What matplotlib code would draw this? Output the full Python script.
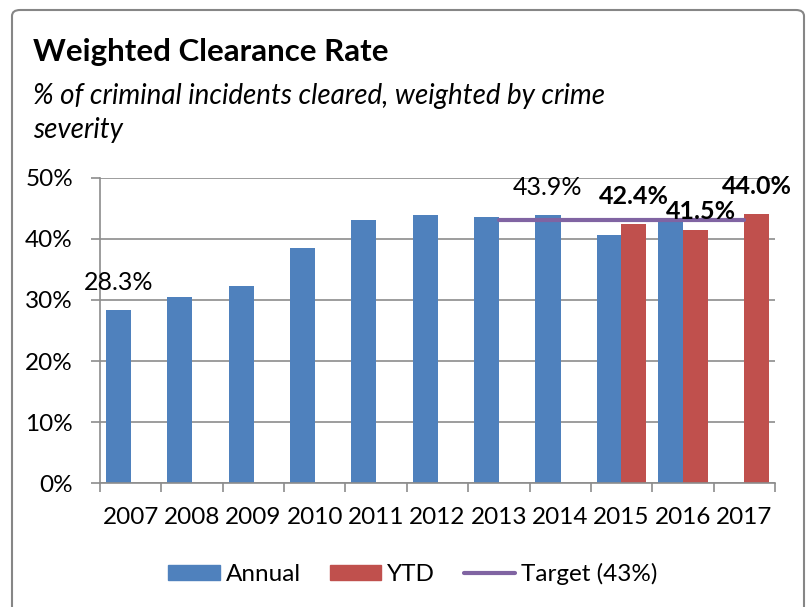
import matplotlib.pyplot as plt
import numpy as np
from matplotlib.patches import FancyBboxPatch, Patch
from matplotlib.lines import Line2D

plt.rcParams['font.family'] = ['Lato', 'DejaVu Sans']

# data
years = ['2007', '2008', '2009', '2010', '2011', '2012', '2013', '2014', '2015', '2016', '2017']
annual = [28.3, 30.4, 32.3, 38.5, 43.1, 43.9, 43.6, 43.9, 40.6, 42.8, np.nan]
ytd = [np.nan] * 8 + [42.4, 41.5, 44.0]
target_years = ['2013', '2014', '2015', '2016', '2017']
target = [43, 43, 43, 43, 43]

blue = '#4F81BD'
red = '#C0504D'
purple = '#8064A2'
grid_gray = '#8C8C8C'

fig = plt.figure(figsize=(8.06, 6.07), dpi=100)
ax = fig.add_axes([100 / 806, 1 - 483.3 / 607, 675 / 806, 305.6 / 607])

x = np.arange(len(years))
w = 0.41
ax.bar(x - 0.2, annual, w, color=blue, zorder=2)
ax.bar(x + 0.2, ytd, w, color=red, zorder=2)

tx = [years.index(y) for y in target_years]
ax.plot(tx, target, color=purple, lw=3, solid_capstyle='round', zorder=3)

# data labels (Excel places them loosely above the bars)
ax.annotate('28.3%', (0 - 0.2, annual[0]), xytext=(0, 20), textcoords='offset points',
            ha='center', va='center', fontsize=18, zorder=4)
ax.annotate('43.9%', (7 - 0.2, annual[7]), xytext=(0, 20), textcoords='offset points',
            ha='center', va='center', fontsize=18, zorder=4)
ax.annotate('42.4%', (8 + 0.2, ytd[8]), xytext=(0, 20), textcoords='offset points',
            ha='center', va='center', fontsize=18, fontweight='bold', zorder=4)
ax.annotate('41.5%', (9 + 0.2, ytd[9]), xytext=(4, 13), textcoords='offset points',
            ha='center', va='center', fontsize=18, fontweight='bold', zorder=4)
ax.annotate('44.0%', (10 + 0.2, ytd[10]), xytext=(0, 20), textcoords='offset points',
            ha='center', va='center', fontsize=18, fontweight='bold', zorder=4)

ax.set_xlim(-0.5, len(years) - 0.5)
ax.set_ylim(0, 50)
ax.set_yticks(np.arange(0, 51, 10))
ax.set_yticklabels([f'{v}%' for v in range(0, 51, 10)])
ax.set_xticks(x)
ax.set_xticklabels(years)
ax.set_xticks(np.arange(-0.5, len(years), 1), minor=True)
ax.tick_params(axis='x', which='major', length=0, pad=17, labelsize=17.5)
ax.tick_params(axis='x', which='minor', length=6.5, width=1.2, color=grid_gray, direction='out')
ax.tick_params(axis='y', length=6.5, width=1.2, color=grid_gray, pad=13, labelsize=17.5)
ax.grid(axis='y', color=grid_gray, lw=1.2, zorder=0)
ax.set_axisbelow(True)
for s in ['top', 'right']:
    ax.spines[s].set_visible(False)
for s in ['left', 'bottom']:
    ax.spines[s].set_color(grid_gray)
    ax.spines[s].set_linewidth(1.2)

# titles
fig.text(33 / 806, 1 - 52 / 607, 'Weighted Clearance Rate', fontsize=22.5, fontweight='bold',
         va='center', ha='left')
fig.text(33 / 806, 1 - 96 / 607, '% of criminal incidents cleared, weighted by crime',
         fontsize=20, style='italic', va='center', ha='left')
fig.text(33 / 806, 1 - 130 / 607, 'severity', fontsize=20, style='italic', va='center', ha='left')

# legend
handles = [Patch(color=blue, label='Annual'), Patch(color=red, label='YTD'),
           Line2D([], [], color=purple, lw=3, solid_capstyle='round', label='Target (43%)')]
fig.legend(handles=handles, loc='center', bbox_to_anchor=(413 / 806, 1 - 574 / 607), ncol=3,
           frameon=False, fontsize=17.5, handlelength=2.1, handleheight=0.6,
           handletextpad=0.25, columnspacing=1.2)

# chart frame
frame = FancyBboxPatch((12 / 806, -0.05), 792 / 806, 1.05 - 10 / 607,
                       boxstyle='round,pad=0,rounding_size=0.01', transform=fig.transFigure,
                       fill=False, edgecolor='#868686', lw=1.5)
fig.patches.append(frame)

fig.savefig('out.png', dpi=100)
